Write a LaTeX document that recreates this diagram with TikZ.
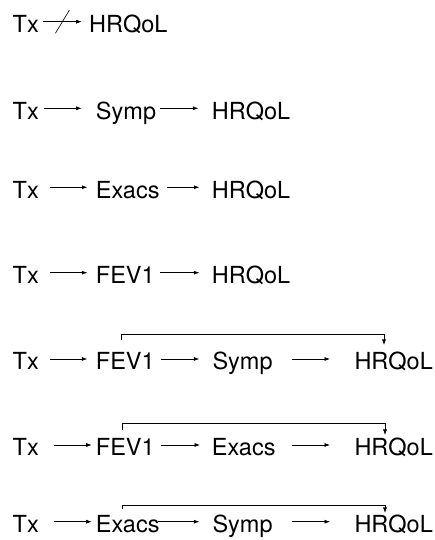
\documentclass[tikz,border=0pt]{standalone}
\usepackage{fontspec}
\setmainfont{TeX Gyre Heros}
\usetikzlibrary{arrows.meta}
\begin{document}
\begin{tikzpicture}[x=1pt,y=1pt,
  lbl/.style={anchor=west, inner sep=0pt, text height=22pt, text depth=0pt,
              font=\fontsize{23.5}{28}\selectfont},
  arr/.style={line width=0.6pt, -{Latex[length=5.5pt,width=4pt]}},
  bar/.style={line width=0.6pt}]
\useasboundingbox (0,0) rectangle (435,540);

% Row 1: Tx -/-> HRQoL
\node[lbl] (tx1) at (12.5,518.3) {Tx};
\node[lbl] (hr1) at (89,518.3) {HRQoL};
\draw[arr] ([xshift=4.1pt]tx1.east) -- ([xshift=-7.3pt]hr1.west) coordinate[midway] (cut);
\draw[bar] ([shift={(-7pt,-11.6pt)}]cut) -- ([shift={(7pt,11.6pt)}]cut);

% Row 2: Tx -> Symp -> HRQoL
\node[lbl] (tx2) at (12.5,431.7) {Tx};
\node[lbl] (sy2) at (95.7,431.7) {Symp};
\node[lbl] (hr2) at (211.7,431.7) {HRQoL};
\draw[arr] ([xshift=4.7pt]tx2.east) -- ([xshift=-14pt]sy2.west);
\draw[arr] ([xshift=3.5pt]sy2.east) -- ([xshift=-13.4pt]hr2.west);

% Row 3: Tx -> Exacs -> HRQoL
\node[lbl] (tx3) at (12.5,352.7) {Tx};
\node[lbl] (ex3) at (95.7,352.7) {Exacs};
\node[lbl] (hr3) at (211.7,352.7) {HRQoL};
\draw[arr] ([xshift=10.7pt]tx3.east) -- ([xshift=-8.4pt]ex3.west);
\draw[arr] ([xshift=7pt]ex3.east) -- ([xshift=-12.4pt]hr3.west);

% Row 4: Tx -> FEV1 -> HRQoL
\node[lbl] (tx4) at (12.5,267.3) {Tx};
\node[lbl] (fe4) at (95.7,267.3) {FEV1};
\node[lbl] (hr4) at (211.7,267.3) {HRQoL};
\draw[arr] ([xshift=10.7pt]tx4.east) -- ([xshift=-8.4pt]fe4.west);
\draw[arr] ([xshift=5.5pt]fe4.east) -- ([xshift=-12.4pt]hr4.west);

% Row 5: Tx -> FEV1 -> Symp -> HRQoL, plus FEV1 -> HRQoL
\node[lbl] (tx5) at (12.5,181) {Tx};
\node[lbl] (fe5) at (95.7,181) {FEV1};
\node[lbl] (sy5) at (212.3,181) {Symp};
\node[lbl] (hr5) at (354.3,181) {HRQoL};
\draw[arr] ([xshift=10.7pt]tx5.east) -- ([xshift=-8.4pt]fe5.west);
\draw[arr] ([xshift=6.2pt]fe5.east) -- ([xshift=-13pt]sy5.west);
\draw[arr] ([xshift=19.3pt]sy5.east) -- ([xshift=-24.3pt]hr5.west);
\draw[arr] ([shift={(26pt,19pt)}]fe5.west) -- ++(0,5.7pt) -| ([shift={(29.7pt,14pt)}]hr5.west);

% Row 6: Tx -> FEV1 -> Exacs -> HRQoL, plus FEV1 -> HRQoL
\node[lbl] (tx6) at (12.5,95) {Tx};
\node[lbl] (fe6) at (95.7,95) {FEV1};
\node[lbl] (ex6) at (211.7,95) {Exacs};
\node[lbl] (hr6) at (354.3,95) {HRQoL};
\draw[arr] ([xshift=15.4pt]tx6.east) -- ([xshift=-4pt]fe6.west);
\draw[arr] ([xshift=6.5pt]fe6.east) -- ([xshift=-11.7pt]ex6.west);
\draw[arr] ([xshift=16pt]ex6.east) -- ([xshift=-24.3pt]hr6.west);
\draw[arr] ([shift={(27pt,15pt)}]fe6.west) -- ++(0,6.7pt) -| ([shift={(30.7pt,10pt)}]hr6.west);

% Row 7: Tx -> Exacs -> Symp -> HRQoL, plus Exacs -> HRQoL
\node[lbl] (tx7) at (12.5,18.3) {Tx};
\node[lbl] (ex7) at (95.7,18.3) {Exacs};
\node[lbl] (sy7) at (212.3,18.3) {Symp};
\node[lbl] (hr7) at (354.3,18.3) {HRQoL};
\draw[arr] ([xshift=15.4pt]tx7.east) -- ([xshift=-4pt]ex7.west);
\draw[arr] ([xshift=-1.4pt]ex7.east) -- ([xshift=-13pt]sy7.west);
\draw[arr] ([xshift=19.3pt]sy7.east) -- ([xshift=-24.3pt]hr7.west);
\draw[arr] ([shift={(27pt,12.4pt)}]ex7.west) -- ++(0,4.3pt) -| ([shift={(30.7pt,8.7pt)}]hr7.west);
\end{tikzpicture}
\end{document}
